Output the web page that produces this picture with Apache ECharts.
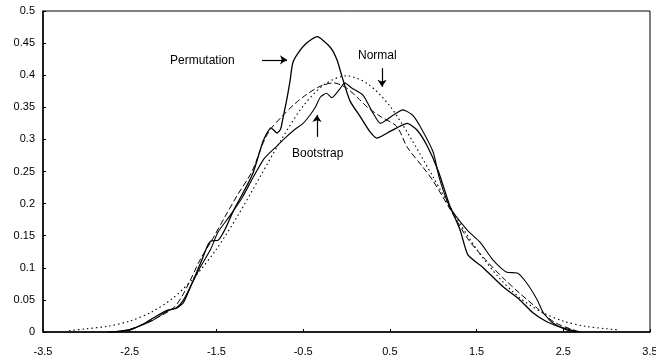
<!DOCTYPE html>
<html>
<head>
<meta charset="utf-8">
<script src="https://cdn.jsdelivr.net/npm/echarts@6/dist/echarts.min.js"></script>
<style>
  html, body { margin: 0; padding: 0; background: #fff; }
  #main { width: 656px; height: 360px; }
</style>
</head>
<body>
<div id="main"></div>
<script>
// x tick labels
const xTicks = [-3.5, -2.5, -1.5, -0.5, 0.5, 1.5, 2.5, 3.5]

// Permutation (solid, tall peak)
const permX = [-2.75, -2.5, -2.35, -2.19, -2.06, -1.96, -1.88, -1.8, -1.69, -1.6, -1.56, -1.48, -1.4, -1.3, -1.2, -1.08, -0.96, -0.87, -0.8, -0.76, -0.73, -0.69, -0.65, -0.62, -0.56, -0.46, -0.34, -0.19, -0.11, -0.05, 0.04, 0.16, 0.27, 0.35, 0.47, 0.58, 0.7, 0.81, 0.93, 1.06, 1.19, 1.31, 1.4, 1.57, 1.81, 2.0, 2.15, 2.31, 2.46, 2.66]
const permY = [0, 0.003, 0.012, 0.025, 0.034, 0.037, 0.046, 0.07, 0.105, 0.135, 0.142, 0.143, 0.16, 0.19, 0.215, 0.247, 0.298, 0.318, 0.31, 0.316, 0.335, 0.361, 0.392, 0.419, 0.434, 0.45, 0.46, 0.444, 0.424, 0.397, 0.36, 0.335, 0.312, 0.302, 0.31, 0.318, 0.325, 0.315, 0.29, 0.25, 0.197, 0.159, 0.12, 0.101, 0.07, 0.05, 0.03, 0.016, 0.008, 0]

// Bootstrap (solid)
const bootX = [-2.7, -2.5, -2.25, -2.05, -1.96, -1.88, -1.78, -1.69, -1.57, -1.48, -1.35, -1.2, -1.1, -0.95, -0.8, -0.71, -0.6, -0.5, -0.42, -0.36, -0.3, -0.23, -0.17, -0.07, -0.02, 0.06, 0.19, 0.31, 0.39, 0.54, 0.65, 0.76, 0.85, 1.0, 1.07, 1.19, 1.39, 1.54, 1.69, 1.85, 1.97, 2.08, 2.2, 2.27, 2.38, 2.54, 2.69]
const bootY = [0, 0.004, 0.017, 0.034, 0.038, 0.05, 0.076, 0.1, 0.128, 0.156, 0.18, 0.21, 0.235, 0.27, 0.29, 0.302, 0.315, 0.325, 0.338, 0.35, 0.366, 0.372, 0.365, 0.38, 0.388, 0.38, 0.369, 0.34, 0.325, 0.338, 0.346, 0.338, 0.32, 0.28, 0.24, 0.195, 0.159, 0.14, 0.112, 0.093, 0.092, 0.076, 0.05, 0.03, 0.014, 0.003, 0]

// Normal (dotted)
const normX = [-3.2, -3.0, -2.75, -2.5, -2.25, -2.0, -1.75, -1.5, -1.25, -1.0, -0.75, -0.5, -0.25, 0, 0.25, 0.5, 0.75, 1.0, 1.25, 1.5, 1.75, 2.0, 2.25, 2.5, 2.75, 3.0, 3.15]
const normY = [0.002, 0.005, 0.009, 0.017, 0.031, 0.053, 0.086, 0.129, 0.182, 0.241, 0.3, 0.352, 0.386, 0.399, 0.386, 0.352, 0.3, 0.241, 0.182, 0.129, 0.086, 0.053, 0.031, 0.017, 0.009, 0.005, 0.003]

// unlabelled long-dash curve
const dashX = [-2.7, -2.5, -2.25, -2.0, -1.9, -1.8, -1.69, -1.54, -1.4, -1.25, -1.09, -0.96, -0.88, -0.75, -0.6, -0.46, -0.3, -0.15, 0, 0.15, 0.25, 0.4, 0.58, 0.7, 0.88, 1.0, 1.2, 1.4, 1.6, 1.8, 2.0, 2.2, 2.4, 2.6, 2.7]
const dashY = [0, 0.004, 0.018, 0.037, 0.055, 0.081, 0.112, 0.146, 0.18, 0.215, 0.25, 0.295, 0.315, 0.335, 0.355, 0.37, 0.383, 0.388, 0.38, 0.362, 0.349, 0.335, 0.32, 0.288, 0.257, 0.235, 0.19, 0.145, 0.113, 0.085, 0.06, 0.037, 0.015, 0.004, 0]

const pairs = (xs, ys) => xs.map((x, i) => [x, ys[i]])

const myChart = echarts.init(document.getElementById('main'))

const font = 'Liberation Sans, Arial, sans-serif'
const labelStyle = { color: '#000', fontSize: 11, fontFamily: font }
const noteStyle = { fill: '#000', fontSize: 12, fontFamily: font }

const option = {
  animation: false,
  grid: {
    left: 43,
    right: 6,
    top: 11,
    bottom: 28,
    outerBoundsMode: 'none',
    containLabel: false,
    show: true,
    borderColor: '#000',
    borderWidth: 1
  },
  xAxis: {
    type: 'value',
    min: -3.5,
    max: 3.5,
    splitLine: { show: false },
    axisLine: { onZero: false, lineStyle: { color: '#000', width: 1.5 } },
    axisTick: { inside: true, length: 3, lineStyle: { color: '#000' }, customValues: xTicks },
    axisLabel: { ...labelStyle, margin: 14, customValues: xTicks, hideOverlap: false }
  },
  yAxis: {
    type: 'value',
    min: 0,
    max: 0.5,
    interval: 0.05,
    splitLine: { show: false },
    axisLine: { show: true, onZero: false, lineStyle: { color: '#000', width: 1.5 } },
    axisTick: { show: true, inside: true, length: 3, lineStyle: { color: '#000' } },
    axisLabel: { ...labelStyle, margin: 8, formatter: v => +v.toFixed(2) + '' }
  },
  series: [
    {
      name: 'Normal',
      type: 'line',
      data: pairs(normX, normY),
      smooth: 0.3,
      showSymbol: false,
      lineStyle: { color: '#000', width: 1.1, type: [1.5, 3] }
    },
    {
      name: 'Dashed',
      type: 'line',
      data: pairs(dashX, dashY),
      smooth: 0.3,
      showSymbol: false,
      lineStyle: { color: '#000', width: 1, type: [6, 3] }
    },
    {
      name: 'Bootstrap',
      type: 'line',
      data: pairs(bootX, bootY),
      smooth: 0.2,
      showSymbol: false,
      lineStyle: { color: '#000', width: 1.1 },
      markLine: {
        silent: true,
        symbol: ['none', 'arrow'],
        symbolSize: 7,
        label: { show: false },
        lineStyle: { color: '#000', width: 1.2, type: 'solid' },
        data: [
          [{ coord: [-0.34, 0.304] }, { coord: [-0.34, 0.338] }],
          [{ coord: [0.41, 0.411] }, { coord: [0.41, 0.382] }],
          [{ coord: [-0.974, 0.424] }, { coord: [-0.686, 0.424] }]
        ]
      }
    },
    {
      name: 'Permutation',
      type: 'line',
      data: pairs(permX, permY),
      smooth: 0.2,
      showSymbol: false,
      lineStyle: { color: '#000', width: 1.3 }
    }
  ],
  graphic: [
    { type: 'text', left: 170, top: 55, style: { text: 'Permutation', ...noteStyle } },
    { type: 'text', left: 358, top: 50, style: { text: 'Normal', ...noteStyle } },
    { type: 'text', left: 292, top: 148, style: { text: 'Bootstrap', ...noteStyle } }
  ]
}
myChart.setOption(option)
</script>
</body>
</html>
